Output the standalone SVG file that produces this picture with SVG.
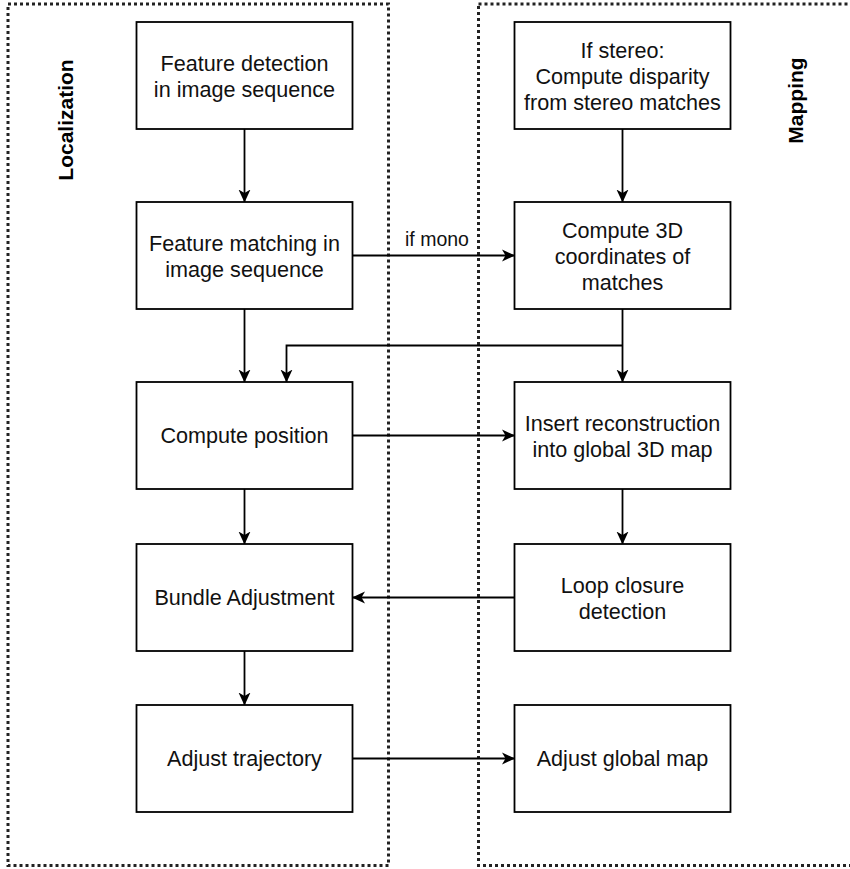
<svg xmlns="http://www.w3.org/2000/svg" width="850" height="869" viewBox="0 0 850 869">
  <style>
    .lane { fill: none; stroke: #222; stroke-width: 3; stroke-dasharray: 3 3; }
    .box { fill: #fff; stroke: #000; stroke-width: 1.8; }
    .txt { font-family: "Liberation Sans", Arial, sans-serif; font-size: 21.6px; fill: #111; text-anchor: middle; }
    .lbl { font-family: "Liberation Sans", Arial, sans-serif; font-size: 19.5px; fill: #111; text-anchor: middle; }
    .title { font-family: "Liberation Sans", Arial, sans-serif; font-size: 21px; font-weight: bold; fill: #000; text-anchor: middle; }
    .edge { fill: none; stroke: #000; stroke-width: 1.8; marker-end: url(#arrow); }
  </style>
  <defs>
    <marker id="arrow" viewBox="0 0 13 13" refX="12.5" refY="6.5" markerWidth="13" markerHeight="13" markerUnits="userSpaceOnUse" orient="auto">
      <path d="M0,0.5 L13,6.5 L0,12.5 L3.5,6.5 Z" fill="#000"/>
    </marker>
  </defs>
  <rect width="850" height="869" fill="#fff"/>

  <!-- swimlanes -->
  <g id="lane-localization">
    <rect class="lane" x="8" y="4" width="380.5" height="861.5"/>
    <text class="title" transform="translate(72.5,120) rotate(-90)">Localization</text>
  </g>
  <g id="lane-mapping">
    <rect class="lane" x="478.5" y="4" width="380" height="861.5"/>
    <text class="title" transform="translate(802.5,100.5) rotate(-90)">Mapping</text>
  </g>

  <!-- connectors -->
  <g id="connectors">
    <path class="edge" d="M244.5,129 V202"/>
    <path class="edge" d="M622.5,129 V202"/>
    <path class="edge" d="M352.5,255.5 H514.5"/>
    <text class="lbl" x="437" y="246">if mono</text>
    <path class="edge" d="M244.5,309 V382"/>
    <path class="edge" d="M622.5,309 V382"/>
    <path class="edge" d="M622.5,345.5 H286.5 V382"/>
    <path class="edge" d="M352.5,435.5 H514.5"/>
    <path class="edge" d="M244.5,489 V544"/>
    <path class="edge" d="M622.5,489 V544"/>
    <path class="edge" d="M514.5,597.5 H352.5"/>
    <path class="edge" d="M244.5,651 V705"/>
    <path class="edge" d="M352.5,758.5 H514.5"/>
  </g>

  <!-- localization steps -->
  <g id="feature-detection">
    <rect class="box" x="136.5" y="22" width="216" height="107"/>
    <text class="txt" x="244.5" y="71"><tspan x="244.5">Feature detection</tspan><tspan x="244.5" dy="25.9">in image sequence</tspan></text>
  </g>
  <g id="feature-matching">
    <rect class="box" x="136.5" y="202" width="216" height="107"/>
    <text class="txt" x="244.5" y="251"><tspan x="244.5">Feature matching in</tspan><tspan x="244.5" dy="25.9">image sequence</tspan></text>
  </g>
  <g id="compute-position">
    <rect class="box" x="136.5" y="382" width="216" height="107"/>
    <text class="txt" x="244.5" y="443">Compute position</text>
  </g>
  <g id="bundle-adjustment">
    <rect class="box" x="136.5" y="544" width="216" height="107"/>
    <text class="txt" x="244.5" y="605">Bundle Adjustment</text>
  </g>
  <g id="adjust-trajectory">
    <rect class="box" x="136.5" y="705" width="216" height="107"/>
    <text class="txt" x="244.5" y="766">Adjust trajectory</text>
  </g>

  <!-- mapping steps -->
  <g id="stereo-disparity">
    <rect class="box" x="514.5" y="22" width="216" height="107"/>
    <text class="txt" x="622.5" y="58"><tspan x="622.5">If stereo:</tspan><tspan x="622.5" dy="25.9">Compute disparity</tspan><tspan x="622.5" dy="25.9">from stereo matches</tspan></text>
  </g>
  <g id="compute-3d">
    <rect class="box" x="514.5" y="202" width="216" height="107"/>
    <text class="txt" x="622.5" y="238"><tspan x="622.5">Compute 3D</tspan><tspan x="622.5" dy="25.9">coordinates of</tspan><tspan x="622.5" dy="25.9">matches</tspan></text>
  </g>
  <g id="insert-reconstruction">
    <rect class="box" x="514.5" y="382" width="216" height="107"/>
    <text class="txt" x="622.5" y="431"><tspan x="622.5">Insert reconstruction</tspan><tspan x="622.5" dy="25.9">into global 3D map</tspan></text>
  </g>
  <g id="loop-closure">
    <rect class="box" x="514.5" y="544" width="216" height="107"/>
    <text class="txt" x="622.5" y="593"><tspan x="622.5">Loop closure</tspan><tspan x="622.5" dy="25.9">detection</tspan></text>
  </g>
  <g id="adjust-global-map">
    <rect class="box" x="514.5" y="705" width="216" height="107"/>
    <text class="txt" x="622.5" y="766">Adjust global map</text>
  </g>
</svg>
